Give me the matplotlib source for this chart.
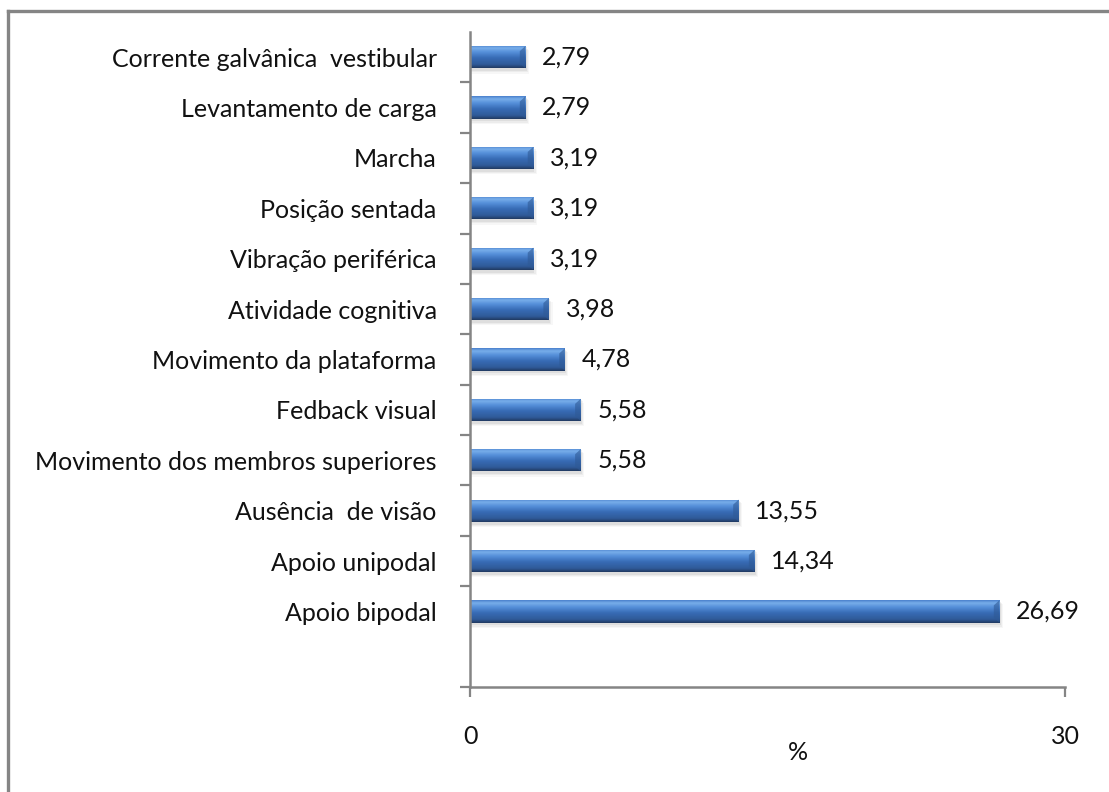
import matplotlib
matplotlib.use("Agg")
import matplotlib.pyplot as plt
import numpy as np
from matplotlib.lines import Line2D
from matplotlib.patches import Rectangle, Polygon
from matplotlib.colors import LinearSegmentedColormap

# data, top to bottom
categorias = [
    "Corrente galvânica  vestibular",
    "Levantamento de carga",
    "Marcha",
    "Posição sentada",
    "Vibração periférica",
    "Atividade cognitiva",
    "Movimento da plataforma",
    "Fedback visual",
    "Movimento dos membros superiores",
    "Ausência  de visão",
    "Apoio unipodal",
    "Apoio bipodal",
]
valores = [2.79, 2.79, 3.19, 3.19, 3.19, 3.98, 4.78, 5.58, 5.58, 13.55, 14.34, 26.69]
x_ticks = [0, 30]

plt.rcParams['font.family'] = ['Lato', 'DejaVu Sans']
fs = 18

W, H = 1109, 792
fig = plt.figure(figsize=(W / 100, H / 100), dpi=100)

# outer frame (top and left only visible)
frame_col = "#858585"
fig.add_artist(Line2D([8 / W, 1.0], [1 - 11 / H, 1 - 11 / H], color=frame_col, lw=2.4,
                      transform=fig.transFigure))
fig.add_artist(Line2D([8 / W, 8 / W], [0, 1 - 11 / H], color=frame_col, lw=2.4,
                      transform=fig.transFigure))

ax = fig.add_axes([470 / W, (H - 687) / H, (1065 - 470) / W, (687 - 32) / H])

n = len(categorias)
pos = np.arange(n)
h = 0.44

grad = LinearSegmentedColormap.from_list("bevel", [
    (0.00, "#4a80cc"),
    (0.12, "#78aeea"),
    (0.30, "#5690da"),
    (0.55, "#386cb6"),
    (0.85, "#2f5a98"),
    (1.00, "#213a62"),
])
gimg = np.linspace(0, 1, 64).reshape(-1, 1)

for y, v in zip(pos, valores):
    # soft shadow
    for k, a in enumerate([0.12, 0.09, 0.06]):
        ax.add_patch(Rectangle((0, y - h / 2 + 0.025 * (k + 1)), v + 0.06 * (k + 1), h + 0.03,
                               facecolor="#808080", alpha=a, edgecolor="none", zorder=1))
    rect = Rectangle((0, y - h / 2), v, h, facecolor="none", edgecolor="none", zorder=2)
    ax.add_patch(rect)
    im = ax.imshow(gimg, cmap=grad, aspect="auto", extent=(0, v, y + h / 2, y - h / 2),
                   zorder=2, interpolation="bilinear")
    im.set_clip_path(rect)
    # right end bevel
    b = 0.28
    ax.add_patch(Polygon([(v - b, y - h / 2 + 0.1), (v, y - h / 2), (v, y + h / 2),
                          (v - b, y + h / 2 - 0.1)], closed=True,
                         facecolor="#2f5a96", alpha=0.6, edgecolor="none", zorder=3))
    ax.annotate(f"{v:.2f}".replace(".", ","), xy=(v, y), xytext=(12, 0),
                textcoords="offset points", va="center", ha="left", fontsize=fs,
                color="#111111")

ax.set_xlim(0, 30)
ax.set_ylim(n + 0.5, -0.5)

ax.set_yticks(pos)
ax.set_yticklabels(categorias, fontsize=fs, color="#111111")
ax.tick_params(axis="y", which="major", length=0, pad=24)
ax.set_yticks(list(np.arange(0.5, n - 1, 1.0)) + [n + 0.5], minor=True)
ax.tick_params(axis="y", which="minor", length=7, width=1.6, color=frame_col, direction="out")

ax.set_xticks(x_ticks)
ax.set_xticklabels([str(t) for t in x_ticks], fontsize=fs, color="#111111")
ax.tick_params(axis="x", length=7, width=1.6, color=frame_col, pad=20)
ax.set_xlabel("%", fontsize=fs, color="#111111")
ax.xaxis.set_label_coords((798 - 470) / (1065 - 470), -(752 - 687) / (687 - 32),
                          transform=None)
ax.xaxis.label.set_va("center")

for s in ["top", "right"]:
    ax.spines[s].set_visible(False)
for s in ["left", "bottom"]:
    ax.spines[s].set_color(frame_col)
    ax.spines[s].set_linewidth(1.8)

fig.savefig("out.png", dpi=100)
